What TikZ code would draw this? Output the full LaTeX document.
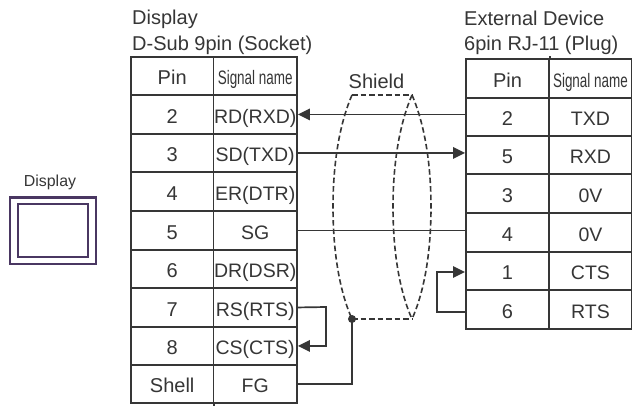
\documentclass[tikz,border=0pt]{standalone}
\usepackage{fontspec}
\setmainfont{Liberation Sans}
\usetikzlibrary{arrows.meta}
\definecolor{ink}{HTML}{363636}
\definecolor{frame}{HTML}{4A3762}
\newcommand{\condensed}[1]{\scalebox{.69}[1]{#1}}
\tikzset{
  x=1pt,y=-1pt,
  cellbase/.style={draw=ink,line width=1.9pt,inner sep=0pt,text=ink,text height=20pt,text depth=2pt,anchor=north west},
  pincell/.style={cellbase,font=\fontsize{20}{24}\selectfont},
  signalcell/.style={cellbase,font=\fontsize{19.5}{24}\selectfont},
  title/.style={anchor=base west,inner sep=0pt,text=ink,font=\fontsize{20}{24}\selectfont},
  wire/.style={draw=ink,line width=1.7pt},
  shieldline/.style={draw=ink,line width=1.6pt,dash pattern=on 5.5pt off 3pt},
  head/.style={-{Triangle[length=12pt,width=11.5pt]}},
}
\begin{document}
\begin{tikzpicture}
\useasboundingbox (0,0) rectangle (632,405);
\fill[white] (0,0) rectangle (632,405);
% titles
\node[title] (t1) at (132,24) {Display};
\node[title] (t2) at (132,50) {D-Sub 9pin (Socket)};
\node[title] (t3) at (464,25) {External Device};
\node[title] (t4) at (464,50) {6pin RJ-11 (Plug)};
\node[title,anchor=base] (t5) at (376.5,88) {Shield};
\node[title,anchor=base,font=\fontsize{15.9}{18}\selectfont] (t6) at (50,186) {Display};
% display icon
\node[draw=frame,line width=2.6pt,minimum width=86pt,minimum height=66.5pt,inner sep=0pt,anchor=north west] (icon) at (8.7,196) {};
\node[draw=frame,line width=2pt,minimum width=70pt,minimum height=53pt,inner sep=0pt] (screen) at (icon.center) {};
% left table
\foreach \n/\p/\s/\y/\h in {h/Pin/\condensed{Signal name}/56/38,2/2/RD(RXD)/94/39,3/3/SD(TXD)/133/38,4/4/ER(DTR)/171/39,5/5/SG/210/39,6/6/DR(DSR)/249/38,7/7/RS(RTS)/287/39,8/8/CS(CTS)/326/38,s/Shell/FG/364/38}{
  \node[pincell,minimum width=82.5pt,minimum height=\h pt] (lp\n) at (130,\y) {\p};
  \node[signalcell,minimum width=83.5pt,minimum height=\h pt] (ls\n) at (212.5,\y) {\s};
}
\draw[draw=ink,line width=1.9pt] (lps.south east) -- ++(0,3);
% right table
\foreach \n/\p/\s/\y/\h in {h/Pin/\condensed{Signal name}/58/39,2/2/TXD/97/38,5/5/RXD/135/38,3/3/0V/173/39,4/4/0V/212/39,1/1/CTS/251/38,6/6/RTS/289/39}{
  \node[pincell,minimum width=83pt,minimum height=\h pt] (rp\n) at (465,\y) {\p};
  \node[signalcell,minimum width=83pt,minimum height=\h pt] (rs\n) at (548,\y) {\s};
}
\draw[draw=ink,line width=1.9pt] (rph.north east) -- ++(0,-2);
% connectors
\draw[wire,head] (rp2.west |- ls2.east) -- (ls2.east);
\draw[wire,head] (ls3.east) -- (ls3.east -| rp5.west);
\draw[wire] (ls5.east) -- (ls5.east -| rp4.west);
\coordinate (cts) at (465,272);
\coordinate (rts) at (465,312);
\coordinate (rloop) at (437,272);
\draw[wire,head] (rts) -| (rloop) -- (cts);
\coordinate (lloop) at (326,307);
\draw[wire,head] (ls7.east) -- (lloop) |- (ls8.east);
% shield
\coordinate (shA) at (352,95);
\coordinate (shB) at (412,95);
\coordinate (shC) at (412,319);
\node[circle,fill=ink,inner sep=0pt,minimum size=8pt] (drain) at (352,319) {};
\draw[wire] (lss.east) -| (drain.center);
\draw[shieldline] (shA) -- (shB);
\draw[shieldline] (drain.center) -- (shC);
\draw[shieldline] (shA) .. controls (339,125) and (333,165) .. (333,207) .. controls (333,250) and (339,290) .. (drain.center);
\draw[shieldline] (shB) .. controls (399,125) and (393,165) .. (393,207) .. controls (393,250) and (399,290) .. (shC);
\draw[shieldline] (shB) .. controls (425,125) and (431,165) .. (431,207) .. controls (431,250) and (425,290) .. (shC);
\end{tikzpicture}
\end{document}
